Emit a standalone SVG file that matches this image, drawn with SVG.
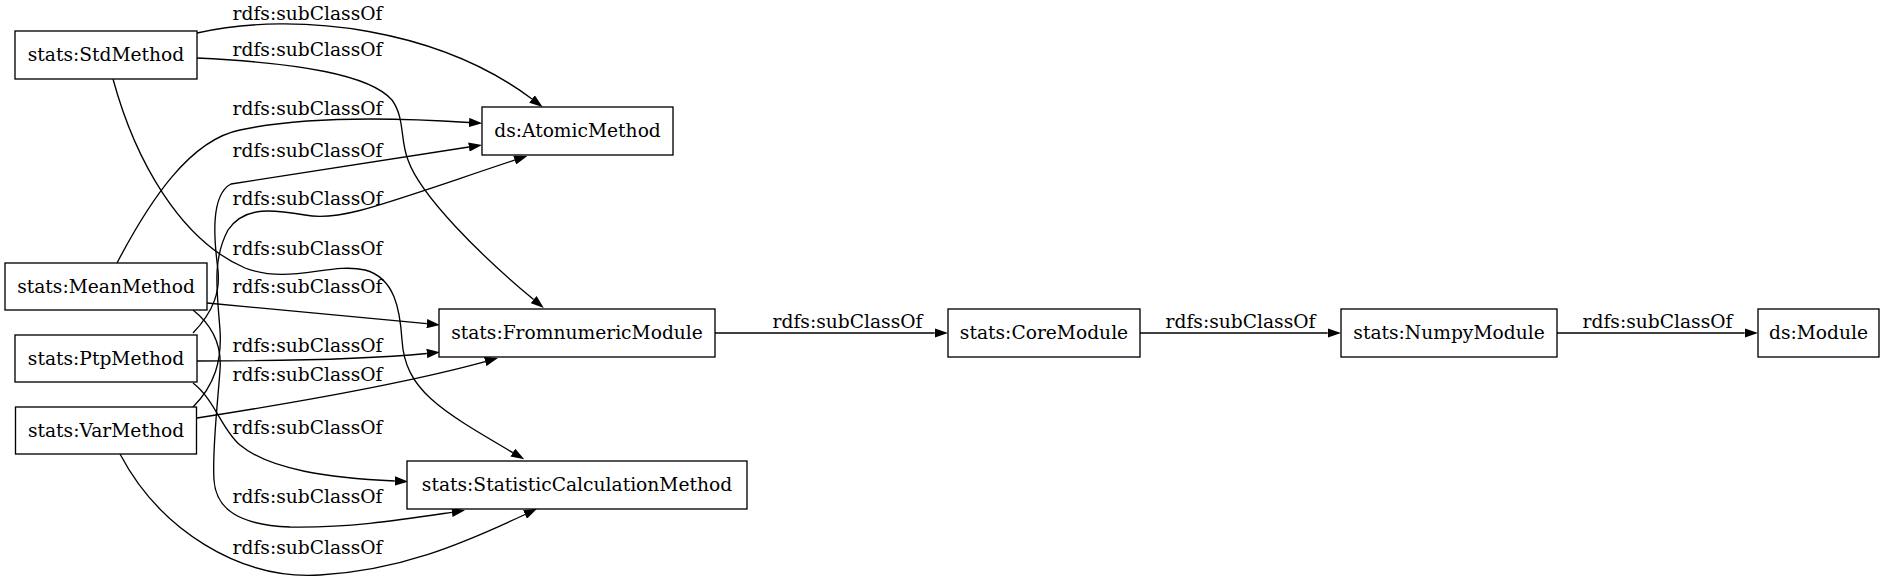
<svg xmlns="http://www.w3.org/2000/svg" width="1885" height="582" viewBox="0 0 1885 582">
<style>
.node rect{fill:#fff;stroke:#000;stroke-width:1.33}
.node text{font-family:"DejaVu Serif","Liberation Serif",serif;font-size:18.67px;text-anchor:middle;fill:#000}
.edges path{fill:none;stroke:#000;stroke-width:1.33;marker-end:url(#arr)}
.edges text{font-family:"DejaVu Serif","Liberation Serif",serif;font-size:18.67px;text-anchor:middle;fill:#000}
</style>
<defs>
<marker id="arr" viewBox="0 0 10 7" refX="0" refY="3.5" markerWidth="13.3" markerHeight="9.3" markerUnits="userSpaceOnUse" orient="auto"><path d="M0,0 L10,3.5 L0,7 z" fill="#000"/></marker>
</defs>
<rect width="1885" height="582" fill="#fff"/>
<g id="connectors" class="edges">
<path d="M197,33 C300,10 440,30 532,99"/>
<text x="307.5" y="20">rdfs:subClassOf</text>
<path d="M197,58 C300,63 370,75 392,100 C405,118 400,140 408,160 C420,195 480,255 533.6,299.6"/>
<text x="307.5" y="56">rdfs:subClassOf</text>
<path d="M113,79 C135,160 180,240 245,268 C290,285 330,262 365,270 C395,278 400,310 402,340 C405,390 440,410 512.8,452.6"/>
<text x="307.5" y="255">rdfs:subClassOf</text>
<path d="M117,263 C150,200 190,140 240,130 C310,115 400,118 469,122.5"/>
<text x="307.5" y="115">rdfs:subClassOf</text>
<path d="M193,333 C215,310 220,290 218,270 C214,240 210,195 231,184 L468.9,147"/>
<text x="307.5" y="157">rdfs:subClassOf</text>
<path d="M193,407 C215,385 222,360 220,330 C217,290 212,260 228,230 C245,205 275,210 305,215 C340,222 380,205 514.7,160.1"/>
<text x="307.5" y="205">rdfs:subClassOf</text>
<path d="M207,303 L426.8,323.7"/>
<text x="307.5" y="293">rdfs:subClassOf</text>
<path d="M197,361 C300,361 380,358 426.8,353.5"/>
<text x="307.5" y="352">rdfs:subClassOf</text>
<path d="M197,418 C280,405 400,385 485.2,361.6"/>
<text x="307.5" y="381">rdfs:subClassOf</text>
<path d="M193,310 C212,325 222,345 220,370 C218,400 212,450 214,480 C216,510 240,525 290,527 C350,528 400,520 451.9,512.3"/>
<text x="307.5" y="503">rdfs:subClassOf</text>
<path d="M193,383 C215,400 222,430 240,445 C270,470 330,478 394.8,481"/>
<text x="307.5" y="434">rdfs:subClassOf</text>
<path d="M120,454 C160,530 240,580 320,575 C400,570 460,545 525,514.5"/>
<text x="307.5" y="554">rdfs:subClassOf</text>
<path d="M715,333 L934.7,333"/>
<text x="847.5" y="328">rdfs:subClassOf</text>
<path d="M1140,333 L1327.7,333"/>
<text x="1240.5" y="328">rdfs:subClassOf</text>
<path d="M1557,333 L1744.7,333"/>
<text x="1657.5" y="328">rdfs:subClassOf</text>
</g>
<g id="stats-StdMethod" class="node"><rect x="15" y="31" width="182" height="48"/><text x="106" y="61">stats:StdMethod</text></g>
<g id="stats-MeanMethod" class="node"><rect x="5" y="263" width="202" height="47"/><text x="106" y="292.5">stats:MeanMethod</text></g>
<g id="stats-PtpMethod" class="node"><rect x="15" y="335" width="182" height="47"/><text x="106" y="364.5">stats:PtpMethod</text></g>
<g id="stats-VarMethod" class="node"><rect x="15.5" y="407" width="181" height="47"/><text x="106" y="436.5">stats:VarMethod</text></g>
<g id="ds-AtomicMethod" class="node"><rect x="482" y="107" width="191" height="48"/><text x="577.5" y="137">ds:AtomicMethod</text></g>
<g id="stats-FromnumericModule" class="node"><rect x="439" y="309" width="276" height="48"/><text x="577" y="339">stats:FromnumericModule</text></g>
<g id="stats-StatisticCalculationMethod" class="node"><rect x="407" y="461" width="340" height="48"/><text x="577" y="491">stats:StatisticCalculationMethod</text></g>
<g id="stats-CoreModule" class="node"><rect x="948" y="309" width="192" height="48"/><text x="1044" y="339">stats:CoreModule</text></g>
<g id="stats-NumpyModule" class="node"><rect x="1341" y="309" width="216" height="48"/><text x="1449" y="339">stats:NumpyModule</text></g>
<g id="ds-Module" class="node"><rect x="1758" y="309" width="121" height="48"/><text x="1818.5" y="339">ds:Module</text></g>
</svg>
